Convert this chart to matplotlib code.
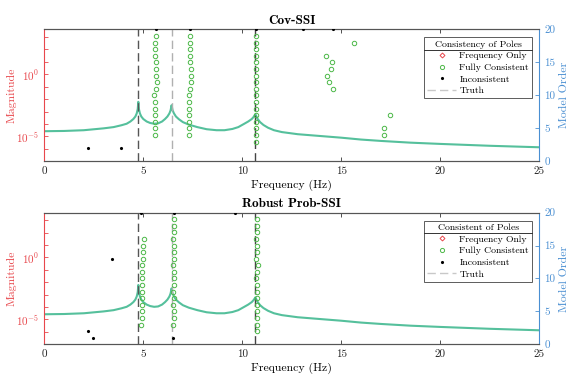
import numpy as np
import matplotlib
matplotlib.use("Agg")
import matplotlib.pyplot as plt
from matplotlib.lines import Line2D

plt.rcParams['font.family'] = ['cmr10', 'DejaVu Serif']
plt.rcParams['mathtext.fontset'] = 'cm'
plt.rcParams['axes.formatter.use_mathtext'] = True

# ---------------- data ----------------
# FRF magnitude curve: frequency (Hz) and log10 magnitude
frf_freq = [0, 1, 2, 3, 3.5, 3.9, 4.16, 4.35, 4.5, 4.6, 4.67, 4.72, 4.75, 4.78, 4.83, 4.9,
            5.0, 5.17, 5.35, 5.55, 5.75, 5.95, 6.1, 6.22, 6.32, 6.38, 6.43, 6.48, 6.55,
            6.65, 6.8, 7.0, 7.3, 7.73, 8.2, 8.7, 9.1, 9.5, 9.8, 10.08, 10.3, 10.48, 10.58,
            10.63, 10.66, 10.7, 10.78, 10.9, 11.07, 11.3, 11.6, 12, 12.8, 13.58, 15, 16,
            17, 18.5, 20, 22.5, 25]
frf_log10 = [-4.58, -4.56, -4.5, -4.35, -4.25, -4.1, -3.98, -3.8, -3.6, -3.4, -3.15, -2.8,
             -2.22, -2.8, -3.15, -3.4, -3.6, -3.8, -3.92, -3.98, -3.95, -3.8, -3.6, -3.4,
             -3.15, -2.9, -2.49, -2.9, -3.15, -3.4, -3.62, -3.85, -4.05, -4.25, -4.42,
             -4.5, -4.5, -4.4, -4.25, -4.0, -3.8, -3.6, -3.42, -3.3, -3.22, -3.35, -3.6,
             -3.85, -4.08, -4.3, -4.5, -4.65, -4.82, -4.92, -5.1, -5.25, -5.36, -5.5,
             -5.6, -5.75, -5.87]

truth_freq = [4.75, 6.43, 10.66]

# Cov-SSI poles
cov_full_freq = ([5.64, 5.61, 5.61, 5.61, 5.64, 5.64, 5.64, 5.68, 5.64, 5.54, 5.58, 5.58, 5.58, 5.58, 5.61, 5.58]
                 + [7.36, 7.36, 7.36, 7.36, 7.36, 7.40, 7.40, 7.40, 7.36, 7.29, 7.29, 7.29, 7.33, 7.29, 7.33, 7.33]
                 + [10.67] * 17
                 + [15.63, 14.24, 14.53, 14.48, 14.28, 14.40, 14.56, 17.46, 17.14, 17.17])
cov_full_order = (list(range(19, 3, -1))
                  + list(range(19, 3, -1))
                  + list(range(19, 2, -1))
                  + [18, 16, 15, 14, 13, 12, 11, 7, 5, 4])
cov_inc_freq = [2.22, 3.86, 5.64, 7.36, 10.67, 13.05, 14.6]
cov_inc_order = [2, 2, 20, 20, 20, 20, 20]

# Robust Prob-SSI poles
rob_full_freq = ([5.04, 5.00, 4.97, 4.97, 4.95, 4.93, 4.93, 4.95, 4.95, 4.95, 4.95, 4.93, 4.93, 4.88]
                 + [6.55, 6.57, 6.55, 6.52, 6.55, 6.57, 6.55, 6.52, 6.55, 6.55, 6.57, 6.52, 6.55, 6.52, 6.55, 6.55, 6.52]
                 + [10.72, 10.74, 10.72, 10.70, 10.74, 10.72, 10.70, 10.77, 10.72, 10.70, 10.74, 10.72, 10.72, 10.74, 10.72, 10.74, 10.72, 10.72])
rob_full_order = (list(range(16, 2, -1))
                  + list(range(19, 2, -1))
                  + list(range(19, 1, -1)))
rob_inc_freq = [3.42, 2.21, 2.46, 4.88, 6.55, 9.63, 6.52]
rob_inc_order = [13, 2, 1, 20, 20, 20, 1]

titles = ["Cov-SSI", "Robust Prob-SSI"]
legend_titles = ["Consistency of Poles", "Consistent of Poles"]
legend_labels = ["Frequency Only", "Fully Consistent", "Inconsistent", "Truth"]
x_ticks = [0, 5, 10, 15, 20, 25]
order_ticks = [0, 5, 10, 15, 20]

# ---------------- style ----------------
RED = '#e8474c'
BLUE = '#4a8fd2'
CURVE = '#55c09c'
GREEN = '#4cb848'
SPINE = '#555555'
truth_colors = ['#555555', '#b0b0b0', '#444444']

fig = plt.figure(figsize=(5.81, 3.86), dpi=100)
positions = [[0.0762, 0.582, 0.852, 0.342], [0.0762, 0.108, 0.852, 0.341]]

panels = [
    (cov_full_freq, cov_full_order, cov_inc_freq, cov_inc_order),
    (rob_full_freq, rob_full_order, rob_inc_freq, rob_inc_order),
]

legends = []
for i, (ff, fo, inf, ino) in enumerate(panels):
    ax = fig.add_axes(positions[i])
    ax.plot(frf_freq, 10 ** np.array(frf_log10), color=CURVE, lw=1.5, zorder=2)
    ax.set_yscale('log')
    ax.set_ylim(10 ** -7.0, 10 ** 3.6)
    ax.set_xlim(0, 25)
    decades = list(range(-7, 4))
    ax.set_yticks([10.0 ** d for d in decades])
    ax.set_yticklabels(['$10^{%d}$' % d if d in (0, -5) else '' for d in decades])
    ax.yaxis.set_minor_locator(matplotlib.ticker.NullLocator())
    ax.set_xticks(x_ticks)
    ax.set_xticklabels([str(t) for t in x_ticks])
    ax.tick_params(axis='y', colors=RED, direction='in', length=3, labelsize=8, width=0.6)
    ax.tick_params(axis='x', direction='in', length=3, top=True, labelsize=8, width=0.6,
                   colors='#333333', labelcolor='#222222')
    ax.set_ylabel('Magnitude', color=RED, fontsize=8.5, labelpad=0)
    ax.set_xlabel('Frequency (Hz)', fontsize=8.5, labelpad=3)
    ax.spines['left'].set_color(RED)
    for s in ('top', 'bottom'):
        ax.spines[s].set_color(SPINE)
    ax.spines['right'].set_visible(False)
    ax.set_title(titles[i], fontsize=9.5, family='cmb10', pad=4)

    ax2 = ax.twinx()
    ax2.set_ylim(0, 20)
    ax2.set_xlim(0, 25)
    ax2.set_yticks(order_ticks)
    ax2.set_yticklabels([str(t) for t in order_ticks])
    ax2.tick_params(axis='y', colors=BLUE, direction='in', length=3, labelsize=8, width=0.6)
    ax2.set_ylabel('Model Order', color=BLUE, fontsize=8.5, labelpad=3)
    ax2.spines['right'].set_color(BLUE)
    ax2.spines['left'].set_visible(False)
    for s in ('top', 'bottom'):
        ax2.spines[s].set_color(SPINE)

    for tf, tc in zip(truth_freq, truth_colors):
        ax2.axvline(tf, color=tc, ls=(0, (6, 3)), lw=1.0, zorder=1)
    ax2.plot(ff, fo, 'o', mfc='none', mec=GREEN, ms=3.2, mew=0.7, zorder=3)
    ax2.plot(inf, ino, '.', color='black', ms=2.5, zorder=3)

    handles = [
        Line2D([], [], ls='none', marker='D', mfc='none', mec=RED, ms=2.5, mew=0.7),
        Line2D([], [], ls='none', marker='o', mfc='none', mec=GREEN, ms=3.0, mew=0.7),
        Line2D([], [], ls='none', marker='.', color='black', ms=2.5),
        Line2D([], [], color='#c8c8c8', ls=(0, (6, 3)), lw=1.0),
    ]
    leg = ax2.legend(handles, legend_labels, title=legend_titles[i], loc='upper right',
                     bbox_to_anchor=(0.985, 0.94), fontsize=7, title_fontsize=7,
                     frameon=True, fancybox=False, edgecolor='#333333',
                     handlelength=3.0, handletextpad=0.3, labelspacing=0.3,
                     borderpad=0.3, borderaxespad=0)
    leg.get_frame().set_linewidth(0.7)
    leg.set_zorder(20)
    legends.append(leg)

fig.canvas.draw()
inv = fig.transFigure.inverted()
for leg in legends:
    bb = leg.get_window_extent()
    tb = leg.get_title().get_window_extent()
    y = tb.y0 - 1.5
    (x0, yf), (x1, _) = inv.transform([(bb.x0, y), (bb.x1, y)])
    fig.add_artist(Line2D([x0, x1], [yf, yf], color='#333333', lw=0.7,
                          transform=fig.transFigure, zorder=50))

fig.savefig('out.png', dpi=100)
